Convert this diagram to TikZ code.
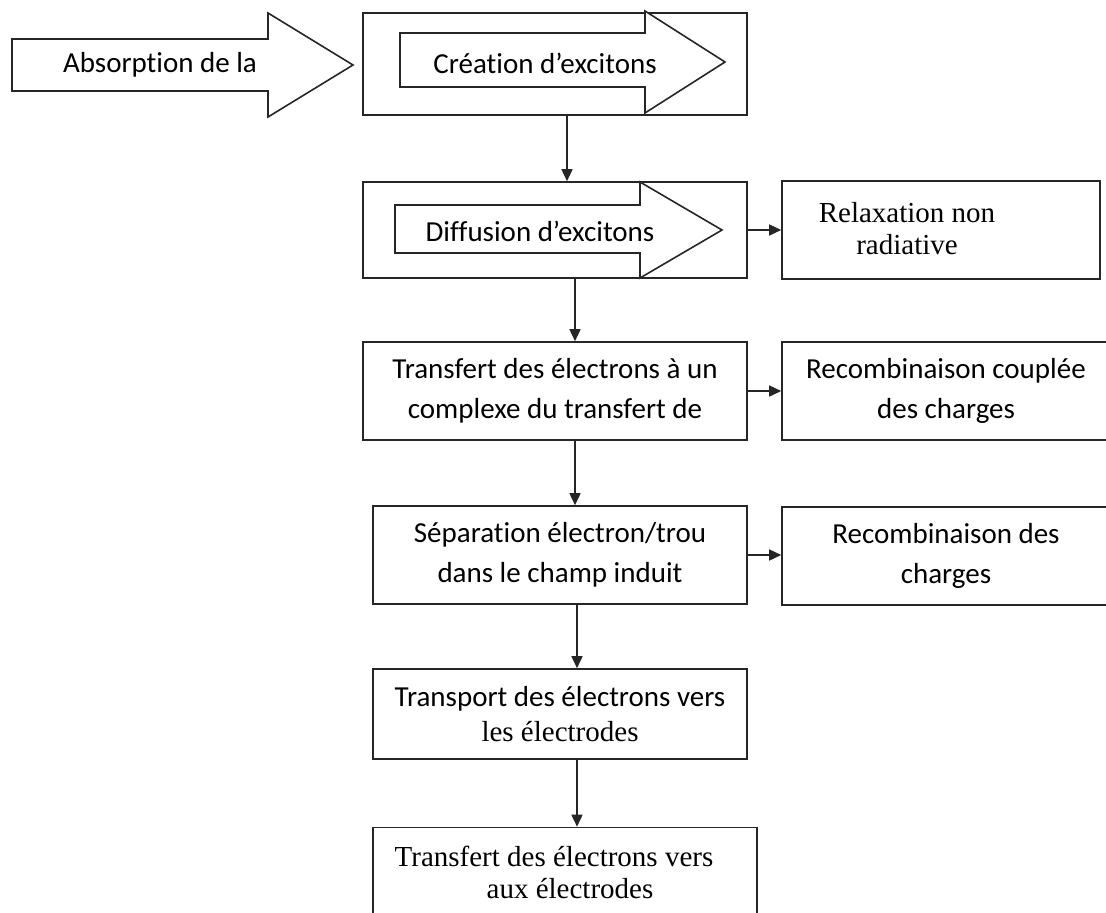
\documentclass[tikz,border=0pt]{standalone}
\usepackage{fontspec}
\setmainfont{Liberation Serif}
\newfontfamily\calfont[Ligatures=NoCommon,RawFeature=-calt]{Carlito}
\usetikzlibrary{arrows.meta}
\begin{document}
\begin{tikzpicture}[x=1pt,y=-1pt,
  line width=1.6pt,
  box/.style={draw=black!85, rectangle, inner sep=0pt, align=center},
  sanstxt/.style={font=\calfont\fontsize{29}{40}\selectfont, align=center, inner sep=0pt},
  seriftxt/.style={font=\fontsize{29}{32}\selectfont, align=center, inner sep=0pt},
  bigarrow/.style={draw=black!85, fill=white, line join=miter},
  arr/.style={draw=black!85, -{Triangle[length=12pt,width=11pt]}}]
\useasboundingbox (0,0) rectangle (1106,913);
\fill[white] (0,0) rectangle (1106,913);
\clip (0,0) rectangle (1106,913);

% Absorption arrow
\draw[bigarrow] (12,39) -- (268,39) -- (268,13) -- (353,65) -- (268,117) -- (268,91) -- (12,91) -- cycle;
\node[sanstxt] (abs) at (160,65) {Absorption de la};

% Box 1
\node[box, minimum width=384pt, minimum height=102pt] (b1) at (555,64) {};
\draw[bigarrow] (400,33) -- (645,33) -- (645,11) -- (725,62) -- (645,113) -- (645,87) -- (400,87) -- cycle;
\node[sanstxt] (t1) at (545,63) {Création d’excitons};

% Box 2
\node[box, minimum width=384pt, minimum height=96pt] (b2) at (555,230) {};
\draw[bigarrow] (395,205) -- (640,205) -- (640,182) -- (722,230) -- (640,278) -- (640,253) -- (395,253) -- cycle;
\node[sanstxt] (t2) at (540,231) {Diffusion d’excitons};

% Relaxation
\node[box, minimum width=318pt, minimum height=98pt] (relax) at (941,230) {};
\node[seriftxt] (relaxt) at (907,229) {Relaxation non\\radiative};

% Box 3
\node[box, sanstxt, draw=black!85, minimum width=384pt, minimum height=98pt] (b3) at (555,391)
  {Transfert des électrons à un\\complexe du transfert de};
\node[box, sanstxt, draw=black!85, minimum width=328pt, minimum height=98pt] (rc) at (946,391)
  {Recombinaison couplée\\des charges};

% Box 4
\node[box, sanstxt, draw=black!85, minimum width=374pt, minimum height=98pt] (b4) at (560,555)
  {Séparation électron/trou\\dans le champ induit};
\node[box, sanstxt, draw=black!85, minimum width=328pt, minimum height=98pt] (rd) at (946,556)
  {Recombinaison des\\charges};

% Box 5
\node[box, minimum width=374pt, minimum height=90pt, align=center, font=\fontsize{29}{35}\selectfont] (b5) at (560,714)
  {{\calfont Transport des électrons vers}\\les électrodes};

% Box 6
\node[box, minimum width=384pt, minimum height=113pt] (b6) at (565,884) {};
\node[seriftxt] (t6) at (554,872) {Transfert des électrons vers\\\hspace*{32pt}aux électrodes};

% connectors
\coordinate (xa) at (567,0);
\coordinate (xb) at (575,0);
\coordinate (xc) at (577,0);
\draw[arr] (b1.south -| xa) -- (b2.north -| xa);
\draw[arr] (b2.south -| xb) -- (b3.north -| xb);
\draw[arr] (b3.south -| xb) -- (b4.north -| xb);
\draw[arr] (b4.south -| xc) -- (b5.north -| xc);
\draw[arr] (b5.south -| xc) -- (b6.north -| xc);
\draw[arr] (b2.east) -- (relax.west |- b2.east);
\draw[arr] (b3.east) -- (rc.west |- b3.east);
\draw[arr] (b4.east) -- (rd.west |- b4.east);
\end{tikzpicture}
\end{document}
